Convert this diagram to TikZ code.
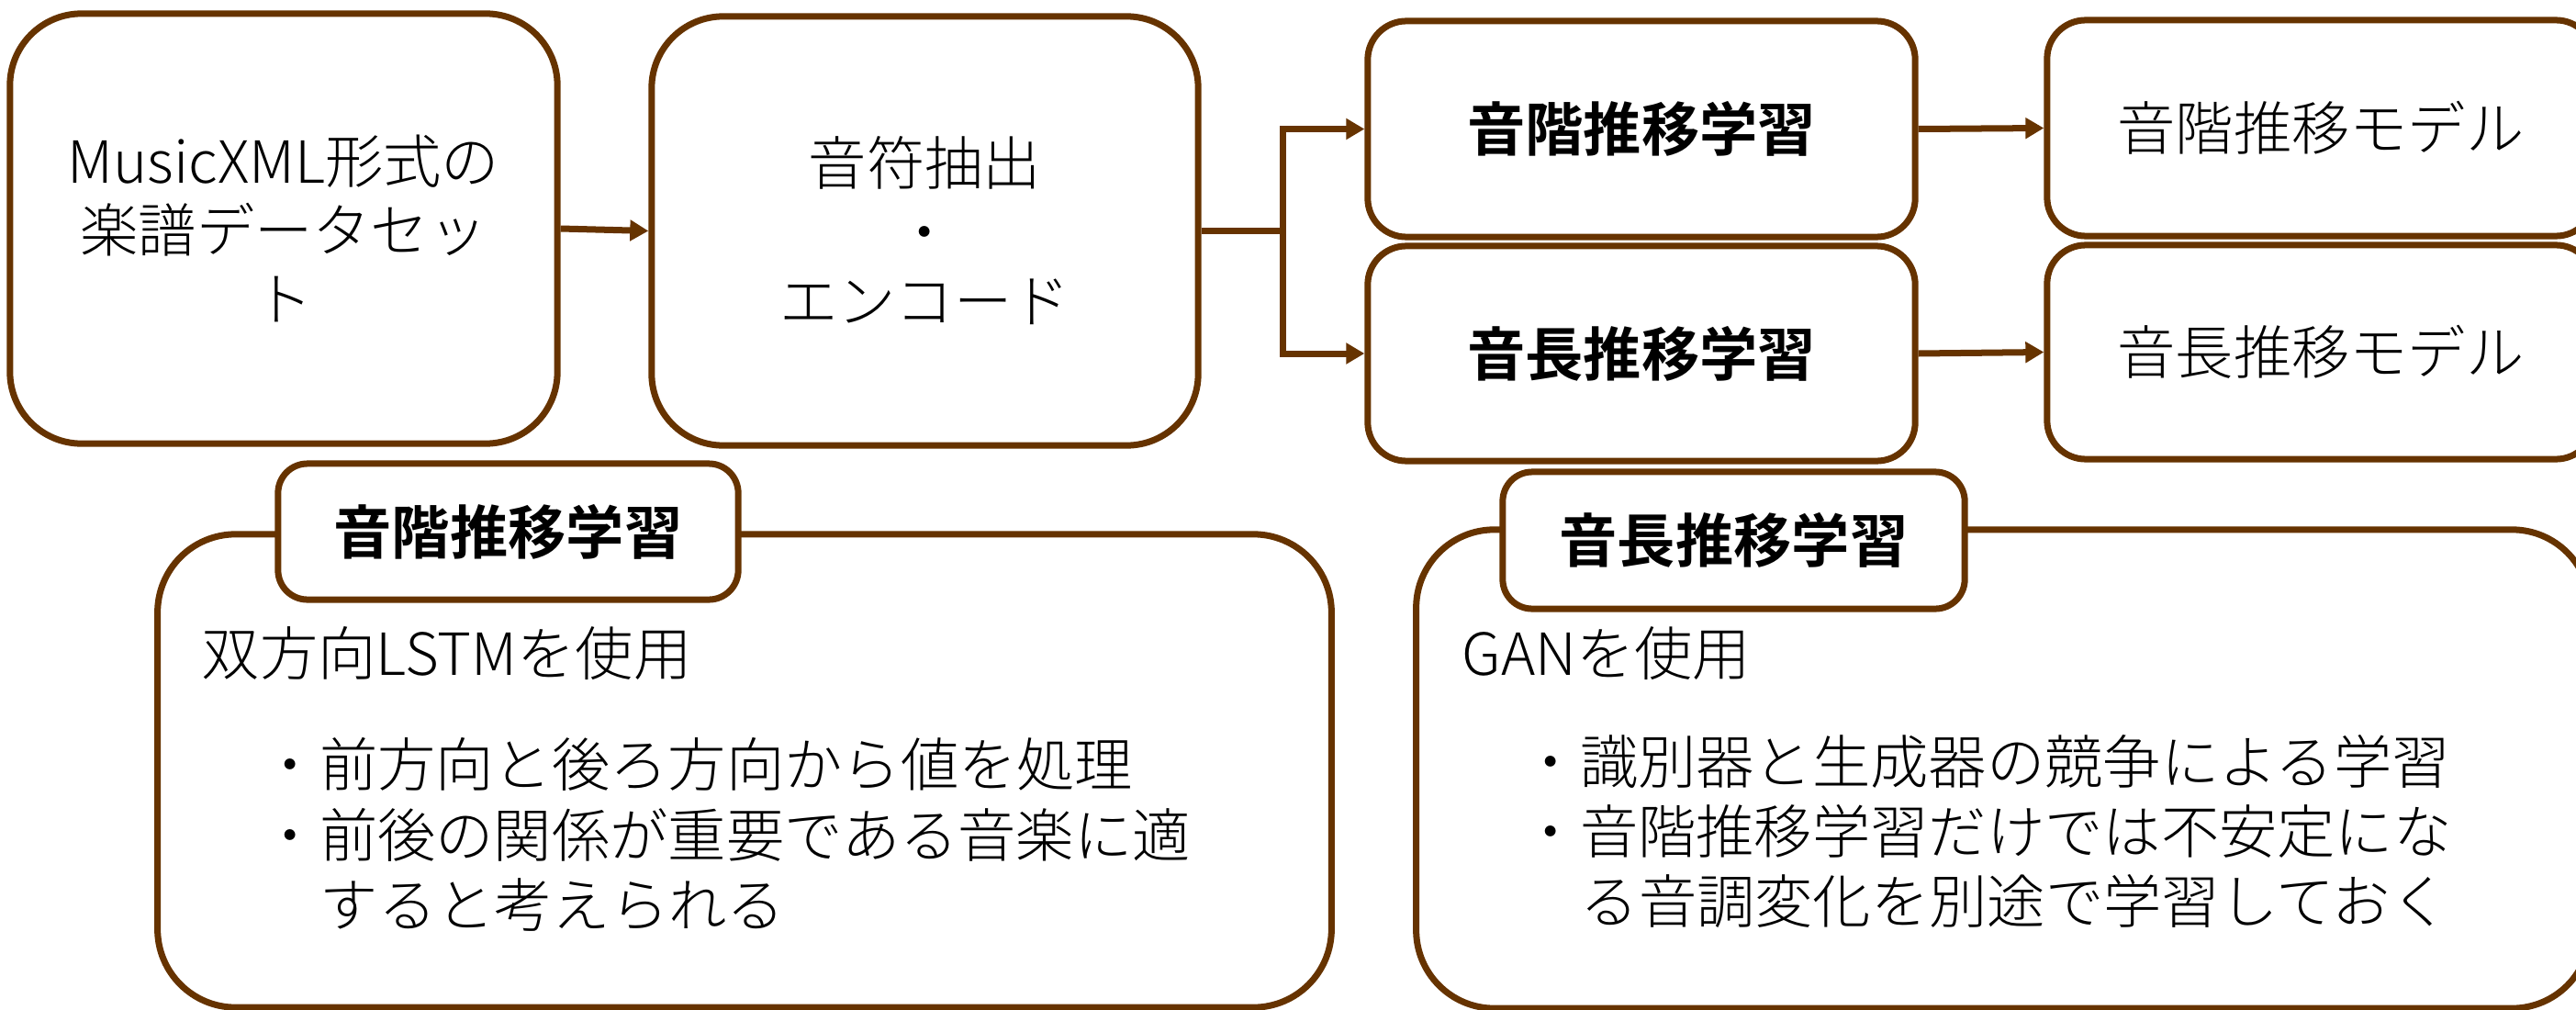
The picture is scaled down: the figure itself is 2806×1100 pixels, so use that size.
\documentclass[tikz,border=0pt]{standalone}
\usepackage{fontspec}
\IfFontExistsTF{Noto Sans CJK JP Light}
  {\setmainfont{Noto Sans CJK JP Light}[BoldFont={Noto Sans CJK JP Bold}]}
  {\setmainfont{Noto Sans CJK JP}}
\usetikzlibrary{arrows.meta}
\definecolor{brn}{RGB}{102,51,0}
\newcommand\jpnorm{\fontsize{18}{21.3}\selectfont}
\begin{document}
\begin{tikzpicture}[x=0.01cm,y=-0.01cm,
  box/.style={draw=brn,line width=0.07cm,fill=white,rounded corners=#1,inner sep=0pt,align=center,font=\jpnorm},
  boldbox/.style={box=#1,font=\jpnorm\bfseries},
  panel/.style={draw=brn,line width=0.07cm,fill=white,rounded corners=0.85cm,inner sep=0pt},
  tab/.style={draw=brn,line width=0.07cm,fill=white,rounded corners=0.32cm,inner sep=0pt,font=\jpnorm\bfseries},
  txt/.style={inner sep=0pt,anchor=base west,font=\jpnorm},
  arr/.style={draw=brn,line width=0.07cm,-{Triangle[length=0.2cm,width=0.22cm]}},
  ln/.style={draw=brn,line width=0.07cm}]
\useasboundingbox (0,0) rectangle (2806,1100);
% top row
\node[box=0.78cm, minimum width=5.96cm, minimum height=4.68cm] (src) at (309,249) {MusicXML形式の\\楽譜データセッ\\ト};
\node[box=0.78cm, minimum width=5.95cm, minimum height=4.67cm] (enc) at (1007.5,251.5) {音符抽出\\・\\エンコード};
\node[boldbox=0.42cm, minimum width=5.96cm, minimum height=2.35cm] (pl) at (1788,140.5) {音階推移学習};
\node[boldbox=0.42cm, minimum width=5.96cm, minimum height=2.34cm] (dl) at (1788,385) {音長推移学習};
\node[box=0.42cm, minimum width=5.96cm, minimum height=2.35cm] (pm) at (2528,139.5) {音階推移モデル};
\node[box=0.42cm, minimum width=5.96cm, minimum height=2.33cm] (dm) at (2528,383.5) {音長推移モデル};
% connectors
\coordinate (bx) at (1397,0);
\draw[arr] (src.east) -- (enc.west);
\draw[ln] (enc.east) -- (enc.east -| bx);
\draw[arr] (enc.east -| bx) |- (pl.west);
\draw[arr] (enc.east -| bx) |- (dl.west);
\draw[arr] (pl.east) -- (pm.west);
\draw[arr] (dl.east) -- (dm.west);
% left panel
\node[panel, minimum width=12.78cm, minimum height=5.15cm] (lp) at (811,839.5) {};
\node[tab, minimum width=5.01cm, minimum height=1.48cm] (lt) at (553.5,579) {音階推移学習};
\node[txt] (l1) at (219,735) {双方向LSTMを使用};
\node[txt] (l2) at (284,856) {・前方向と後ろ方向から値を処理};
\node[txt] (l3) at (284,933) {・前後の関係が重要である音楽に適};
\node[txt] (l4) at (348,1009) {すると考えられる};
% right panel
\node[panel, minimum width=12.78cm, minimum height=5.21cm] (rp) at (2182,837.5) {};
\node[tab, minimum width=5.03cm, minimum height=1.49cm] (rt) at (1888.5,588.5) {音長推移学習};
\node[txt] (r1) at (1592,735) {GANを使用};
\node[txt] (r2) at (1657,853) {・識別器と生成器の競争による学習};
\node[txt] (r3) at (1657,929) {・音階推移学習だけでは不安定にな};
\node[txt] (r4) at (1721,1005) {る音調変化を別途で学習しておく};
\end{tikzpicture}
\end{document}
